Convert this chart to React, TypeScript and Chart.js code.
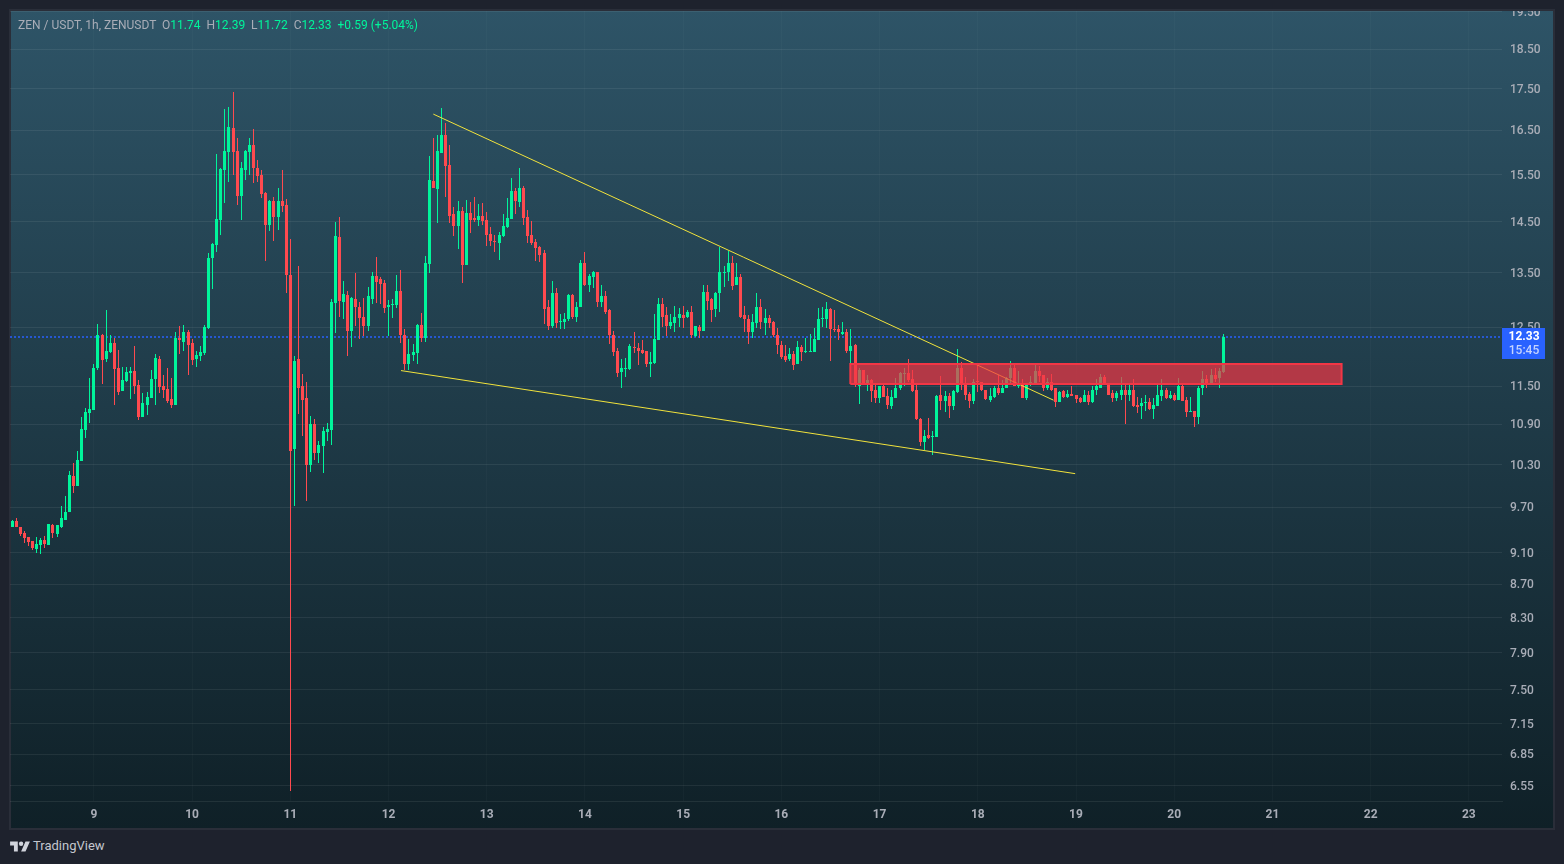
import { useEffect, useRef } from "react";
import { Chart, registerables } from "chart.js";

Chart.register(...registerables);

// hourly candles, first one sits 20 hours before the "9" tick
const FIRST_HOUR = -20;

const opens = [
  9.44,9.51,9.43,9.35,9.30,9.25,9.14,9.20,9.26,9.20,
  9.46,9.34,9.44,9.53,9.63,10.13,10.0,10.35,10.82,11.08,
  11.13,11.8,12.36,11.96,12.07,12.22,11.81,11.42,11.59,11.72,
  11.76,11.52,11.02,11.21,11.31,11.62,11.96,11.51,11.46,11.3,
  11.2,12.32,12.25,12.42,12.22,11.96,12.0,12.05,12.49,13.78,
  14.04,14.55,15.6,16.0,16.55,16.02,15.04,15.6,16.0,16.17,
  15.64,15.49,15.1,14.44,14.93,14.61,14.93,14.85,13.45,10.53,
  11.96,11.5,11.32,10.29,10.9,10.47,10.58,10.78,10.81,12.93,
  14.19,12.95,13.08,12.44,13.0,12.87,12.69,12.52,13.0,13.43,
  13.38,13.3,12.87,12.89,12.89,13.15,12.37,11.87,12.02,12.06,
  12.54,12.32,13.66,15.36,15.2,15.97,16.39,15.72,14.66,14.41,
  14.72,13.64,14.68,14.59,14.55,14.63,14.53,14.25,14.12,14.08,
  14.21,14.39,14.57,15.15,14.91,15.21,14.61,14.23,14.1,14.0,
  13.87,12.87,12.52,13.12,12.6,12.6,12.64,13.08,12.69,12.86,
  13.68,13.27,13.41,13.52,12.95,13.07,12.8,12.37,12.09,11.74,
  11.79,11.79,12.16,12.14,12.11,12.09,11.87,11.89,12.27,12.91,
  12.71,12.52,12.58,12.67,12.71,12.69,12.77,12.34,12.5,12.44,
  13.14,13.0,12.82,13.12,13.49,13.51,13.68,13.27,13.41,12.71,
  12.65,12.42,12.58,12.86,12.58,12.67,12.6,12.37,12.19,12.0,
  11.96,12.03,11.87,12.16,12.07,12.07,12.07,12.28,12.65,12.65,
  12.82,12.47,12.47,12.39,12.41,12.09,12.19,11.5,11.77,11.55,
  11.6,11.44,11.31,11.5,11.34,11.19,11.31,11.47,11.7,11.72,
  11.62,11.44,10.98,10.63,10.74,10.71,10.71,11.36,11.27,11.34,
  11.19,11.41,11.8,11.53,11.38,11.27,11.58,11.57,11.45,11.28,
  11.33,11.48,11.39,11.47,11.63,11.8,11.5,11.52,11.31,11.52,
  11.53,11.75,11.68,11.48,11.57,11.47,11.25,11.42,11.33,11.38,
  11.36,11.31,11.25,11.36,11.25,11.44,11.48,11.66,11.55,11.39,
  11.31,11.36,11.45,11.37,11.44,11.2,11.19,11.23,11.25,11.14,
  11.19,11.34,11.45,11.31,11.37,11.28,11.5,11.28,11.09,11.11,
  11.01,11.47,11.62,11.55,11.68,11.63,11.74,
];
const closes = [
  9.52,9.43,9.34,9.29,9.23,9.16,9.21,9.26,9.21,9.47,
  9.35,9.46,9.55,9.64,10.15,10.0,10.37,10.83,11.09,11.14,
  11.8,12.36,11.94,12.09,12.22,11.79,11.41,11.6,11.74,11.76,
  11.5,11.02,11.23,11.33,11.62,11.97,11.49,11.44,11.27,11.2,
  12.32,12.27,12.42,12.2,11.94,12.02,12.07,12.5,13.78,14.06,
  14.57,15.62,16.02,16.58,16.0,15.04,15.64,16.02,16.17,15.64,
  15.46,15.08,14.44,14.93,14.61,14.93,14.82,13.45,10.5,11.92,
  11.47,11.28,10.3,10.9,10.47,10.59,10.8,10.83,12.95,14.21,
  12.97,13.1,12.44,13.02,12.87,12.67,12.52,13.06,13.43,13.32,
  13.28,12.85,12.89,12.91,13.15,12.36,11.87,12.04,12.07,12.54,
  12.31,13.68,15.38,15.22,16.02,16.39,15.69,14.63,14.41,14.72,
  13.64,14.68,14.55,14.53,14.63,14.51,14.23,14.12,14.1,14.23,
  14.41,14.59,15.15,14.93,15.21,14.59,14.21,14.08,13.98,13.85,
  12.83,12.52,13.12,12.58,12.61,12.65,13.08,12.69,12.87,13.68,
  13.27,13.43,13.52,12.95,13.07,12.78,12.36,12.07,11.72,11.8,
  11.8,12.17,12.14,12.09,12.06,11.87,11.9,12.29,12.91,12.69,
  12.52,12.6,12.69,12.73,12.67,12.78,12.36,12.52,12.44,13.14,
  12.98,12.8,13.12,13.51,13.51,13.68,13.25,13.41,12.69,12.65,
  12.42,12.6,12.86,12.6,12.67,12.58,12.36,12.19,11.98,11.94,
  12.03,11.86,12.16,12.07,12.09,12.09,12.29,12.65,12.67,12.82,
  12.47,12.45,12.41,12.41,12.09,12.17,11.52,11.77,11.53,11.6,
  11.42,11.31,11.5,11.33,11.2,11.33,11.48,11.72,11.72,11.6,
  11.42,10.98,10.63,10.73,10.7,10.73,11.34,11.27,11.34,11.19,
  11.42,11.8,11.52,11.36,11.27,11.58,11.57,11.44,11.3,11.34,
  11.48,11.39,11.48,11.63,11.8,11.5,11.52,11.31,11.53,11.57,
  11.75,11.67,11.48,11.57,11.45,11.25,11.41,11.33,11.38,11.35,
  11.3,11.25,11.36,11.25,11.45,11.5,11.66,11.52,11.37,11.31,
  11.39,11.45,11.37,11.44,11.19,11.17,11.23,11.25,11.14,11.2,
  11.36,11.45,11.31,11.37,11.28,11.5,11.27,11.09,11.11,11.01,
  11.48,11.62,11.55,11.68,11.62,11.75,12.33,
];
const highs = [
  9.53,9.56,9.44,9.38,9.30,9.25,9.30,9.29,9.31,9.47,
  9.48,9.46,9.72,9.85,10.21,10.33,10.5,11.02,11.16,11.64,
  11.87,12.56,12.38,12.8,12.37,12.31,12.11,11.82,11.82,11.82,
  12.17,11.6,11.39,11.41,11.77,12.04,12.0,11.69,11.81,11.64,
  12.42,12.52,12.54,12.45,12.3,12.09,12.17,12.54,13.88,14.08,
  15.95,15.64,17.0,17.04,17.41,16.31,15.77,16.04,16.33,16.53,
  15.82,15.6,15.12,14.95,15.02,15.21,15.6,14.97,14.15,12.0,
  13.62,11.71,11.57,11.03,10.98,10.65,10.86,10.92,13.0,14.49,
  14.61,13.34,13.15,13.04,13.5,12.95,13.02,13.23,13.52,13.8,
  13.41,13.36,12.99,13.0,13.45,13.56,12.47,12.29,12.21,12.56,
  12.75,13.82,15.92,16.31,16.38,17.02,16.68,16.15,14.8,14.93,
  14.8,14.95,14.91,15.02,14.87,14.89,14.7,14.39,14.23,14.29,
  14.66,15.0,15.42,15.21,15.64,15.25,14.74,14.51,14.16,14.02,
  13.93,12.99,13.34,13.21,12.73,12.76,13.1,13.1,12.95,13.74,
  13.9,13.47,13.54,13.52,13.27,13.16,12.82,12.44,12.14,11.95,
  11.97,12.21,12.41,12.23,12.28,12.09,12.07,12.73,13.02,13.02,
  12.86,12.73,12.88,12.84,12.88,12.8,12.88,12.52,12.54,13.27,
  13.27,13.02,13.14,13.99,13.62,13.92,13.83,13.69,13.47,12.88,
  12.71,12.73,13.12,13.0,12.82,12.71,12.62,12.49,12.26,12.19,
  12.14,12.09,12.26,12.19,12.32,12.39,12.49,12.84,12.86,12.95,
  12.84,12.8,12.54,12.6,12.47,12.47,12.21,11.8,11.77,11.68,
  11.62,11.52,11.5,11.52,11.48,11.45,11.63,11.73,11.8,11.95,
  11.77,11.53,11.0,10.82,11.0,10.8,11.37,11.67,11.42,11.39,
  11.44,12.13,11.9,11.65,11.41,11.62,11.88,11.58,11.45,11.47,
  11.5,11.68,11.6,11.65,11.92,11.87,11.75,11.62,11.55,11.67,
  11.87,11.83,11.68,11.63,11.7,11.47,11.42,11.44,11.44,11.5,
  11.37,11.33,11.44,11.42,11.5,11.62,11.7,11.68,11.55,11.44,
  11.42,11.65,11.53,11.55,11.62,11.33,11.31,11.37,11.31,11.31,
  11.53,11.62,11.47,11.42,11.39,11.63,11.52,11.33,11.33,11.11,
  11.5,11.75,11.68,11.78,11.8,11.8,12.39,
];
const lows = [
  9.44,9.43,9.31,9.22,9.18,9.13,9.09,9.08,9.16,9.20,
  9.29,9.30,9.42,9.53,9.63,9.89,10.0,10.35,10.7,10.92,
  11.13,11.77,11.54,11.91,12.05,11.2,11.36,11.42,11.57,11.3,
  11.38,10.97,11.02,11.05,11.31,11.21,11.39,11.31,11.23,11.15,
  11.2,12.04,12.09,11.69,11.86,11.82,11.92,12.02,12.47,13.19,
  13.9,14.23,14.89,15.34,15.5,14.85,14.55,15.38,15.5,15.31,
  15.33,15.0,13.72,14.32,14.12,14.34,14.7,13.12,6.5,9.72,
  11.06,10.72,9.79,10.2,10.37,10.33,10.18,10.65,10.59,12.4,
  12.69,12.64,12.0,12.16,12.52,12.29,12.34,12.44,12.91,12.93,
  12.91,12.76,12.34,12.67,12.85,12.22,11.77,11.77,11.92,11.87,
  12.24,12.25,13.49,15.22,14.47,15.97,15.02,14.47,14.21,13.96,
  13.3,13.64,14.27,14.49,14.41,14.43,14.02,14.02,13.89,13.75,
  14.2,14.37,14.57,14.66,14.8,14.43,14.08,14.04,13.72,13.7,
  12.56,12.45,12.49,12.49,12.47,12.47,12.62,12.65,12.6,12.86,
  13.25,13.14,13.21,12.86,12.86,12.73,12.21,12.0,11.66,11.47,
  11.66,11.77,12.05,11.86,12.03,11.82,11.66,11.87,12.27,12.5,
  12.34,12.47,12.42,12.5,12.48,12.67,12.32,12.33,12.31,12.44,
  12.8,12.6,12.69,12.77,13.23,13.34,13.17,13.27,12.67,12.42,
  12.21,12.31,12.49,12.47,12.37,12.49,12.33,12.03,11.95,11.9,
  11.92,11.77,11.87,11.92,12.05,12.07,12.07,12.27,12.5,12.49,
  11.92,12.41,12.28,12.37,12.06,11.65,11.49,11.22,11.53,11.42,
  11.25,11.23,11.23,11.33,11.14,11.14,11.31,11.45,11.5,11.57,
  11.41,10.97,10.57,10.51,10.68,10.44,10.71,11.12,11.09,11.0,
  11.12,11.39,11.44,11.28,11.16,11.22,11.41,11.42,11.28,11.25,
  11.31,11.36,11.39,11.47,11.52,11.5,11.48,11.31,11.28,11.5,
  11.53,11.58,11.42,11.44,11.42,11.17,11.25,11.31,11.31,11.34,
  11.23,11.23,11.25,11.2,11.23,11.37,11.48,11.52,11.37,11.25,
  11.27,11.28,10.9,11.27,11.17,11.08,10.98,11.11,11.12,10.98,
  11.19,11.27,11.3,11.3,11.27,11.28,11.27,11.01,11.09,10.86,
  10.9,11.36,11.48,11.55,11.58,11.48,11.72,
];

const priceTicks = [
  19.5, 18.5, 17.5, 16.5, 15.5, 14.5, 13.5, 12.5, 11.5, 10.9, 10.3, 9.7, 9.1,
  8.7, 8.3, 7.9, 7.5, 7.15, 6.85, 6.55,
];
const dayLabels = [9, 10, 11, 12, 13, 14, 15, 16, 17, 18, 19, 20, 21, 22, 23];

// drawn objects: [hour, price]
const upperTrend = [[82.95, 16.88], [234.5, 11.28]];
const lowerTrend = [[75.05, 11.76], [239.8, 10.17]];
const zoneHours = [184.85, 304.9];
const zonePrices = [11.54, 11.87];

const lastPrice = 12.33;
const countdown = "15:45";

const GREEN = "#00f59b";
const RED = "#ff4a4f";
const TEXT = "#a9adb7";
const FONT = "Roboto, sans-serif";
const X_MIN = -20.5;
const X_MAX = 344.1;

const toPoints = (line: number[][]) => line.map(([x, y]) => ({ x, y }));

// TradingView snaps candles and the price line to whole pixels, so do the same
const snapBars = {
  id: "snapBars",
  afterDatasetsUpdate(chart: any) {
    chart.getSortedVisibleDatasetMetas().forEach((meta: any) => {
      if (meta.type === "bar") {
        meta.data.forEach((bar: any) => {
          bar.x = Math.floor(bar.x) + 0.5;
          bar.y = Math.round(bar.y);
          bar.base = Math.round(bar.base);
        });
      } else if (meta.label === "last") {
        meta.data.forEach((point: any) => {
          point.y = Math.round(point.y);
        });
      }
    });
  },
};

const priceBadge = {
  id: "priceBadge",
  afterDraw(chart: any) {
    const { ctx, chartArea, scales } = chart;
    const top = Math.round(scales.y.getPixelForValue(lastPrice)) - 9;
    ctx.save();
    ctx.fillStyle = "#2962ff";
    ctx.fillRect(chartArea.right, top, 43, 31);
    ctx.textAlign = "center";
    ctx.textBaseline = "middle";
    ctx.font = `bold 12px ${FONT}`;
    ctx.fillStyle = "#ffffff";
    ctx.fillText(lastPrice.toFixed(2), chartArea.right + 22, top + 9);
    ctx.font = `500 12px ${FONT}`;
    ctx.fillStyle = "#c5d3ff";
    ctx.fillText(countdown, chartArea.right + 22, top + 23);
    ctx.restore();
  },
};

const App = () => {
  const chartRef = useRef<HTMLCanvasElement>(null);

  useEffect(() => {
    if (!chartRef.current) return;
    const colors = closes.map((c, i) => (c >= opens[i] ? GREEN : RED));
    const hour = (i: number) => FIRST_HOUR + i;

    const chart = new Chart(chartRef.current, {
      type: "bar",
      data: {
        datasets: [
          {
            type: "line",
            data: [
              { x: zoneHours[0], y: zonePrices[0] },
              { x: zoneHours[1], y: zonePrices[0] },
              { x: zoneHours[1], y: zonePrices[1] },
              { x: zoneHours[0], y: zonePrices[1] },
              { x: zoneHours[0], y: zonePrices[0] },
            ],
            borderColor: "#f23645",
            borderWidth: 2,
            backgroundColor: "rgba(242, 54, 69, 0.7)",
            fill: "shape",
            pointRadius: 0,
            order: 0,
          },
          {
            type: "line",
            data: toPoints(upperTrend),
            borderColor: "#f2e33c",
            borderWidth: 1,
            pointRadius: 0,
            order: 1,
          },
          {
            type: "line",
            data: toPoints(lowerTrend),
            borderColor: "#f2e33c",
            borderWidth: 1,
            pointRadius: 0,
            order: 1,
          },
          {
            type: "bar",
            data: closes.map((_, i) => ({ x: hour(i), y: [opens[i], closes[i]] })),
            backgroundColor: colors,
            barThickness: 3,
            grouped: false,
            minBarLength: 1,
            inflateAmount: 0,
            order: 2,
          },
          {
            type: "bar",
            data: closes.map((_, i) => ({ x: hour(i), y: [lows[i], highs[i]] })),
            backgroundColor: colors,
            barThickness: 1,
            grouped: false,
            inflateAmount: 0,
            order: 3,
          },
          {
            type: "line",
            label: "last",
            data: [
              { x: X_MIN, y: lastPrice },
              { x: X_MAX, y: lastPrice },
            ],
            borderColor: "#2962ff",
            borderWidth: 1.5,
            borderDash: [2, 2],
            pointRadius: 0,
            order: 4,
          },
        ],
      } as any,
      options: {
        animation: false,
        responsive: true,
        maintainAspectRatio: false,
        events: [],
        layout: { padding: 0 },
        plugins: {
          legend: { display: false },
          tooltip: { enabled: false },
        },
        scales: {
          x: {
            type: "linear",
            min: X_MIN,
            max: X_MAX,
            offset: false,
            grid: {
              offset: false,
              color: "rgba(255, 255, 255, 0.025)",
              drawTicks: false,
            },
            border: { color: "rgba(255, 255, 255, 0.08)" },
            afterBuildTicks: (scale: any) => {
              scale.ticks = dayLabels.map((_, i) => ({ value: i * 24 }));
            },
            afterFit: (scale: any) => {
              scale.height = 27;
              scale.paddingLeft = 0;
              scale.paddingRight = 0;
            },
            ticks: {
              autoSkip: false,
              maxRotation: 0,
              padding: 7,
              color: TEXT,
              font: { size: 12, family: FONT, weight: "bold" },
              callback: (value: any) => String(dayLabels[value / 24]),
            },
          },
          y: {
            type: "logarithmic",
            position: "right",
            min: 6.412,
            max: 19.52,
            grid: { color: "rgba(255, 255, 255, 0.07)", drawTicks: false },
            border: { display: false },
            afterBuildTicks: (scale: any) => {
              scale.ticks = priceTicks.map((value) => ({ value }));
            },
            afterFit: (scale: any) => {
              scale.width = 52;
              scale.paddingTop = 0;
              scale.paddingBottom = 0;
            },
            ticks: {
              autoSkip: false,
              padding: 8,
              labelOffset: 1,
              color: TEXT,
              font: { size: 12, family: FONT, weight: "500" },
              callback: (value: any) => Number(value).toFixed(2),
            },
          },
        },
      } as any,
      plugins: [snapBars, priceBadge],
    });

    return () => chart.destroy();
  }, []);

  const gray = { color: TEXT };
  const green = { color: GREEN };

  return (
    <div
      style={{
        position: "fixed",
        inset: 0,
        background: "#1e222d",
        fontFamily: FONT,
      }}
    >
      <div
        style={{
          position: "absolute",
          left: 9,
          top: 9,
          width: 1546,
          height: 821,
          boxShadow: "inset 0 0 0 2px #2a2e39",
          background: "linear-gradient(#2e5467, #0f2027)",
        }}
      >
        <div
          style={{
            position: "absolute",
            left: 1,
            top: 2,
            width: 1544,
            height: 817,
          }}
        >
          <canvas ref={chartRef} />
        </div>
      </div>
      <div
        style={{
          position: "absolute",
          left: 18,
          top: 18,
          fontSize: 12,
          lineHeight: "14px",
          whiteSpace: "pre",
        }}
      >
        <span style={gray}>ZEN / USDT, 1h, ZENUSDT  O</span>
        <span style={green}>11.74</span>
        <span style={gray}>  H</span>
        <span style={green}>12.39</span>
        <span style={gray}>  L</span>
        <span style={green}>11.72</span>
        <span style={gray}>  C</span>
        <span style={green}>12.33</span>
        <span style={green}>  +0.59 (+5.04%)</span>
      </div>
      <div
        style={{
          position: "absolute",
          left: 10,
          top: 838,
          display: "flex",
          alignItems: "center",
          color: "#c4c7ce",
          fontSize: 13,
          lineHeight: "16px",
        }}
      >
        <svg width="20" height="11" viewBox="0 0 36 20" style={{ marginRight: 3 }}>
          <path fill="#d1d4dc" d="M14 1H0v7h7v11h7V1zM28 19h-8l8-18h8l-8 18z" />
          <circle cx="20" cy="5" r="4" fill="#d1d4dc" />
        </svg>
        TradingView
      </div>
    </div>
  );
};

export default App;
